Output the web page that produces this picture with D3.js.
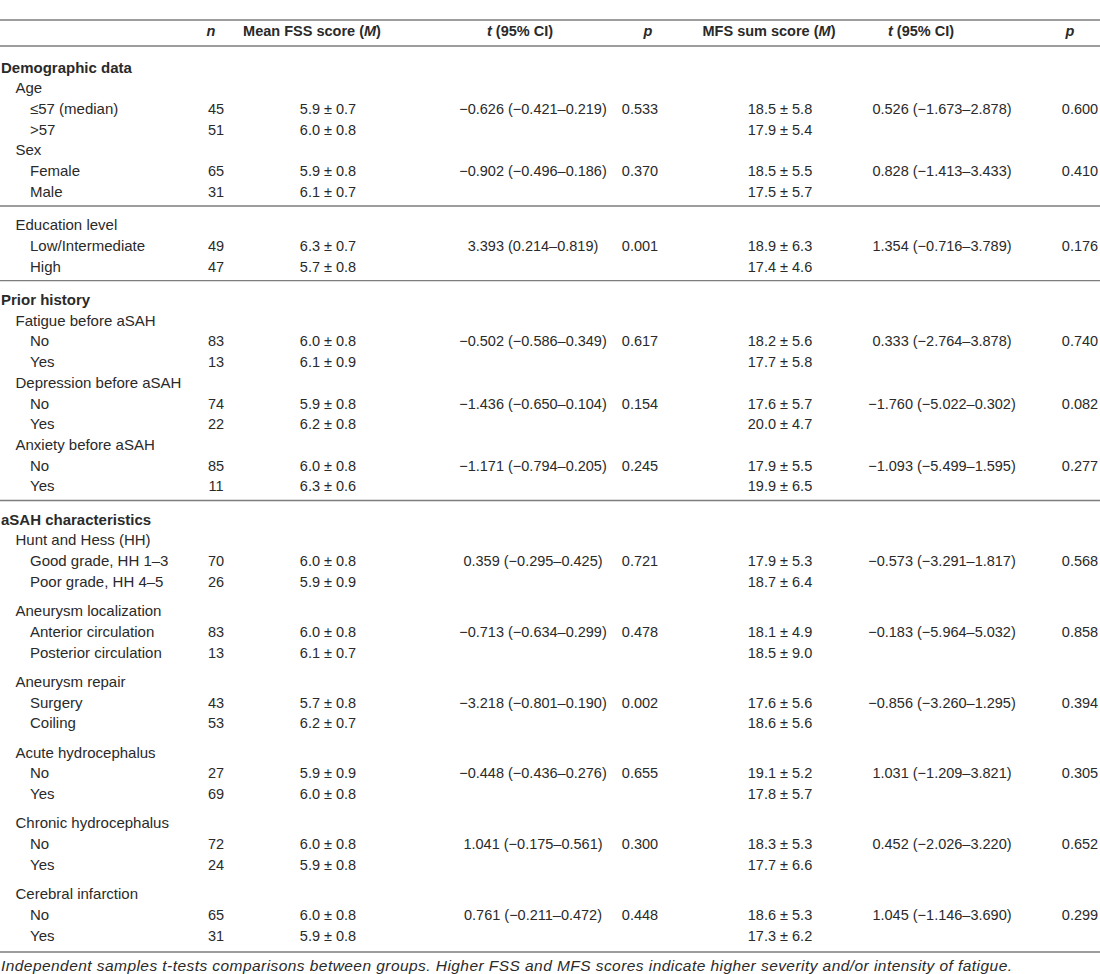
<!DOCTYPE html>
<html>
<head>
<meta charset="utf-8">
<script src="https://cdn.jsdelivr.net/npm/d3@7"></script>
<style>
  body { margin: 0; background: #fff; }
  svg text { font-family: "Liberation Sans", Arial, sans-serif; }
</style>
</head>
<body>
<script>
// table content
var labels = ["Demographic data", "Age", "\u226457 (median)", ">57", "Sex", "Female", "Male",
    "Education level", "Low/Intermediate", "High",
    "Prior history", "Fatigue before aSAH", "No", "Yes", "Depression before aSAH", "No", "Yes",
    "Anxiety before aSAH", "No", "Yes",
    "aSAH characteristics", "Hunt and Hess (HH)", "Good grade, HH 1\u20133", "Poor grade, HH 4\u20135",
    "Aneurysm localization", "Anterior circulation", "Posterior circulation",
    "Aneurysm repair", "Surgery", "Coiling",
    "Acute hydrocephalus", "No", "Yes",
    "Chronic hydrocephalus", "No", "Yes",
    "Cerebral infarction", "No", "Yes"];

// 0 = section, 1 = variable, 2 = group
var levels = [0, 1, 2, 2, 1, 2, 2,
    1, 2, 2,
    0, 1, 2, 2, 1, 2, 2, 1, 2, 2,
    0, 1, 2, 2, 1, 2, 2, 1, 2, 2, 1, 2, 2, 1, 2, 2, 1, 2, 2];

// what comes before a row: "" nothing, "rule" full line, "gap" extra space
var breaks = ["", "", "", "", "", "", "",
    "rule", "", "",
    "rule", "", "", "", "", "", "", "", "", "",
    "rule", "", "", "", "gap", "", "", "gap", "", "", "gap", "", "", "gap", "", "", "gap", "", ""];

var nValues = ["", "", "45", "51", "", "65", "31",
    "", "49", "47",
    "", "", "83", "13", "", "74", "22", "", "85", "11",
    "", "", "70", "26", "", "83", "13", "", "43", "53", "", "27", "69", "", "72", "24", "", "65", "31"];

var fssValues = ["", "", "5.9 \u00b1 0.7", "6.0 \u00b1 0.8", "", "5.9 \u00b1 0.8", "6.1 \u00b1 0.7",
    "", "6.3 \u00b1 0.7", "5.7 \u00b1 0.8",
    "", "", "6.0 \u00b1 0.8", "6.1 \u00b1 0.9", "", "5.9 \u00b1 0.8", "6.2 \u00b1 0.8", "", "6.0 \u00b1 0.8", "6.3 \u00b1 0.6",
    "", "", "6.0 \u00b1 0.8", "5.9 \u00b1 0.9", "", "6.0 \u00b1 0.8", "6.1 \u00b1 0.7", "", "5.7 \u00b1 0.8", "6.2 \u00b1 0.7",
    "", "5.9 \u00b1 0.9", "6.0 \u00b1 0.8", "", "6.0 \u00b1 0.8", "5.9 \u00b1 0.8", "", "6.0 \u00b1 0.8", "5.9 \u00b1 0.8"];

var fssT = ["", "", "\u22120.626 (\u22120.421\u20130.219)", "", "", "\u22120.902 (\u22120.496\u20130.186)", "",
    "", "3.393 (0.214\u20130.819)", "",
    "", "", "\u22120.502 (\u22120.586\u20130.349)", "", "", "\u22121.436 (\u22120.650\u20130.104)", "", "", "\u22121.171 (\u22120.794\u20130.205)", "",
    "", "", "0.359 (\u22120.295\u20130.425)", "", "", "\u22120.713 (\u22120.634\u20130.299)", "", "", "\u22123.218 (\u22120.801\u20130.190)", "",
    "", "\u22120.448 (\u22120.436\u20130.276)", "", "", "1.041 (\u22120.175\u20130.561)", "", "", "0.761 (\u22120.211\u20130.472)", ""];

var fssP = ["", "", "0.533", "", "", "0.370", "",
    "", "0.001", "",
    "", "", "0.617", "", "", "0.154", "", "", "0.245", "",
    "", "", "0.721", "", "", "0.478", "", "", "0.002", "",
    "", "0.655", "", "", "0.300", "", "", "0.448", ""];

var mfsValues = ["", "", "18.5 \u00b1 5.8", "17.9 \u00b1 5.4", "", "18.5 \u00b1 5.5", "17.5 \u00b1 5.7",
    "", "18.9 \u00b1 6.3", "17.4 \u00b1 4.6",
    "", "", "18.2 \u00b1 5.6", "17.7 \u00b1 5.8", "", "17.6 \u00b1 5.7", "20.0 \u00b1 4.7", "", "17.9 \u00b1 5.5", "19.9 \u00b1 6.5",
    "", "", "17.9 \u00b1 5.3", "18.7 \u00b1 6.4", "", "18.1 \u00b1 4.9", "18.5 \u00b1 9.0", "", "17.6 \u00b1 5.6", "18.6 \u00b1 5.6",
    "", "19.1 \u00b1 5.2", "17.8 \u00b1 5.7", "", "18.3 \u00b1 5.3", "17.7 \u00b1 6.6", "", "18.6 \u00b1 5.3", "17.3 \u00b1 6.2"];

var mfsT = ["", "", "0.526 (\u22121.673\u20132.878)", "", "", "0.828 (\u22121.413\u20133.433)", "",
    "", "1.354 (\u22120.716\u20133.789)", "",
    "", "", "0.333 (\u22122.764\u20133.878)", "", "", "\u22121.760 (\u22125.022\u20130.302)", "", "", "\u22121.093 (\u22125.499\u20131.595)", "",
    "", "", "\u22120.573 (\u22123.291\u20131.817)", "", "", "\u22120.183 (\u22125.964\u20135.032)", "", "", "\u22120.856 (\u22123.260\u20131.295)", "",
    "", "1.031 (\u22121.209\u20133.821)", "", "", "0.452 (\u22122.026\u20133.220)", "", "", "1.045 (\u22121.146\u20133.690)", ""];

var mfsP = ["", "", "0.600", "", "", "0.410", "",
    "", "0.176", "",
    "", "", "0.740", "", "", "0.082", "", "", "0.277", "",
    "", "", "0.568", "", "", "0.858", "", "", "0.394", "",
    "", "0.305", "", "", "0.652", "", "", "0.299", ""];

// column headers: [text, italic] pieces
var headers = [
    [["n", true]],
    [["Mean FSS score (", false], ["M", true], [")", false]],
    [["t", true], [" (95% CI)", false]],
    [["p", true]],
    [["MFS sum score (", false], ["M", true], [")", false]],
    [["t", true], [" (95% CI)", false]],
    [["p", true]]
];

var footnote = "Independent samples t-tests comparisons between groups. Higher FSS and MFS scores indicate higher severity and/or intensity of fatigue.";

var width = 1100, height = 974;

var svg = d3.select("body").append("svg")
    .attr("width", width)
    .attr("height", height);

//column positions
var colKeys = ["n", "fss", "t1", "p1", "mfs", "t2", "p2"];
var headX = d3.scaleOrdinal().domain(colKeys).range([211, 312, 520, 648, 769, 921, 1070]);
var dataX = d3.scaleOrdinal().domain(colKeys).range([216, 328, 533, 640, 780, 942, 1080]);
var indent = d3.scaleLinear().domain([0, 2]).range([1, 30]);

//vertical units: one per row, plus extra room for rules and gaps
var ruleExtra = 0.6, gapExtra = 0.41;
var units = [], u = 0, ruleY = [];
labels.forEach(function(d, i){
    if (i > 0) u += 1;
    if (breaks[i] == "rule") { ruleY.push(u - 0.3); u += ruleExtra; }
    if (breaks[i] == "gap") u += gapExtra;
    units.push(u);
});
var y = d3.scaleLinear().domain([0, u]).range([67, 935]);

var textColor = "#2a2a2a", lineColor = "#7d7d7d";

//rules
var lines = [20, 46].concat(ruleY.map(function(d){ return y(d); })).concat([952]);
svg.selectAll(".rule")
    .data(lines)
    .enter()
    .append("line")
    .attr("class", "rule")
    .attr("x1", 0).attr("x2", width)
    .attr("y1", function(d){ return d; })
    .attr("y2", function(d){ return d; })
    .attr("stroke", lineColor)
    .attr("stroke-width", 1.4);

//header row
var head = svg.selectAll(".head")
    .data(headers)
    .enter()
    .append("text")
    .attr("class", "head")
    .attr("x", function(d, i){ return headX(colKeys[i]); })
    .attr("y", 36)
    .attr("text-anchor", "middle")
    .attr("font-size", 14.5)
    .attr("font-weight", "bold")
    .attr("fill", textColor);
head.selectAll("tspan")
    .data(function(d){ return d; })
    .enter()
    .append("tspan")
    .attr("font-style", function(d){ return d[1] ? "italic" : "normal"; })
    .text(function(d){ return d[0]; });

//row labels
svg.selectAll(".label")
    .data(labels)
    .enter()
    .append("text")
    .attr("class", "label")
    .attr("x", function(d, i){ return indent(levels[i]); })
    .attr("y", function(d, i){ return y(units[i]) + 5.5; })
    .attr("font-size", 15)
    .attr("font-weight", function(d, i){ return levels[i] == 0 ? "bold" : "normal"; })
    .attr("fill", textColor)
    .text(function(d){ return d; });

//data cells
var columns = [nValues, fssValues, fssT, fssP, mfsValues, mfsT, mfsP];
columns.forEach(function(col, c){
    svg.selectAll(".cell" + c)
        .data(col)
        .enter()
        .append("text")
        .attr("class", "cell" + c)
        .attr("x", dataX(colKeys[c]))
        .attr("y", function(d, i){ return y(units[i]) + 5.5; })
        .attr("text-anchor", "middle")
        .attr("font-size", 14.5)
        .attr("fill", textColor)
        .text(function(d){ return d; });
});

//footnote
svg.append("text")
    .attr("x", 1)
    .attr("y", 971)
    .attr("font-size", 15.5)
    .attr("font-style", "italic")
    .attr("fill", textColor)
    .attr("textLength", 1011)
    .attr("lengthAdjust", "spacing")
    .text(footnote);
</script>
</body>
</html>
